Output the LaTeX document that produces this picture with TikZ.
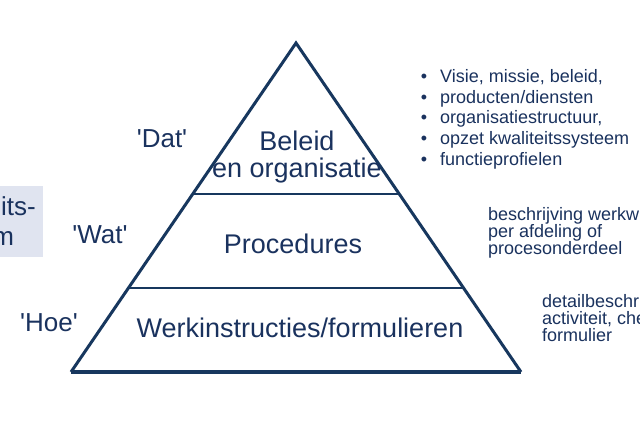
\documentclass[tikz,border=0pt]{standalone}
\usepackage{fontspec}
\setmainfont{Liberation Sans}
\usetikzlibrary{calc}
\definecolor{navy}{RGB}{23,55,94}
\definecolor{txtblue}{RGB}{26,50,94}
\definecolor{boxbg}{RGB}{224,228,240}
\newcommand{\sq}{\textquotesingle}
\begin{document}
\begin{tikzpicture}[x=1pt,y=-1pt,
  big/.style={text=txtblue,inner sep=0pt,font=\fontsize{27}{28}\selectfont},
  lab/.style={text=txtblue,inner sep=0pt,font=\fontsize{26}{28}\selectfont},
  small/.style={text=txtblue,inner sep=0pt,anchor=base west,font=\fontsize{18}{20}\selectfont},
  side/.style={text=txtblue,inner sep=0pt,font=\fontsize{26}{30}\selectfont},
  edge/.style={draw=navy,line width=3pt,line join=miter},
  divider/.style={draw=navy,line width=1.1pt}]
\clip (0,0) rectangle (640,426);
\fill[white] (0,0) rectangle (640,426);
% side box
\fill[boxbg] (-10,186) rectangle (43,257);
\node[side,anchor=base east] (k1) at (36,215) {Kwaliteits-};
\node[side,anchor=base west] (k2) at ([yshift=-30pt]k1.base west) {systeem};
% triangle
\coordinate (A) at (296,43);
\coordinate (L) at (71,372);
\coordinate (R) at (521,372);
\draw[edge] (L) -- (A) -- (R);
\draw[draw=navy,line width=3.5pt] (L) -- (R);
\coordinate (d1l) at ($(A)!0.459!(L)$);
\coordinate (d1r) at ($(A)!0.459!(R)$);
\coordinate (d2l) at ($(A)!0.7447!(L)$);
\coordinate (d2r) at ($(A)!0.7447!(R)$);
\draw[divider] (d1l) -- (d1r);
\draw[divider] (d2l) -- (d2r);
% level texts
\node[big,align=center,anchor=center] (beleid) at (297,157) {Beleid\\[-1pt]en organisatie};
\node[big,anchor=base] (proc) at (293,253) {Procedures};
\node[big,anchor=base] (werk) at (300,337) {Werkinstructies/formulieren};
% labels
\node[lab,anchor=base] (dat) at (162,147) {\sq Dat\sq};
\node[lab,anchor=base] (wat) at (100,243) {\sq Wat\sq};
\node[lab,anchor=base] (hoe) at (49,331) {\sq Hoe\sq};
% bullets
\foreach \i/\y/\t in {1/82/{Visie, missie, beleid,},2/103/{producten/diensten},3/123/{organisatiestructuur,},4/144/{opzet kwaliteitssysteem},5/165/{functieprofielen}}{
  \node[small,anchor=base] (bu\i) at (424,\y) {\textbullet};
  \node[small] (bt\i) at (440,\y) {\t};
}
% procedure descriptions
\node[small] (p1) at (488,220) {beschrijving werkwijze};
\node[small] (p2) at (488,237) {per afdeling of};
\node[small] (p3) at (488,254) {procesonderdeel};
% instruction descriptions
\node[small] (w1) at (542,307) {detailbeschrijving};
\node[small] (w2) at (542,324) {activiteit, checklist};
\node[small] (w3) at (542,341) {formulier};
\end{tikzpicture}
\end{document}
